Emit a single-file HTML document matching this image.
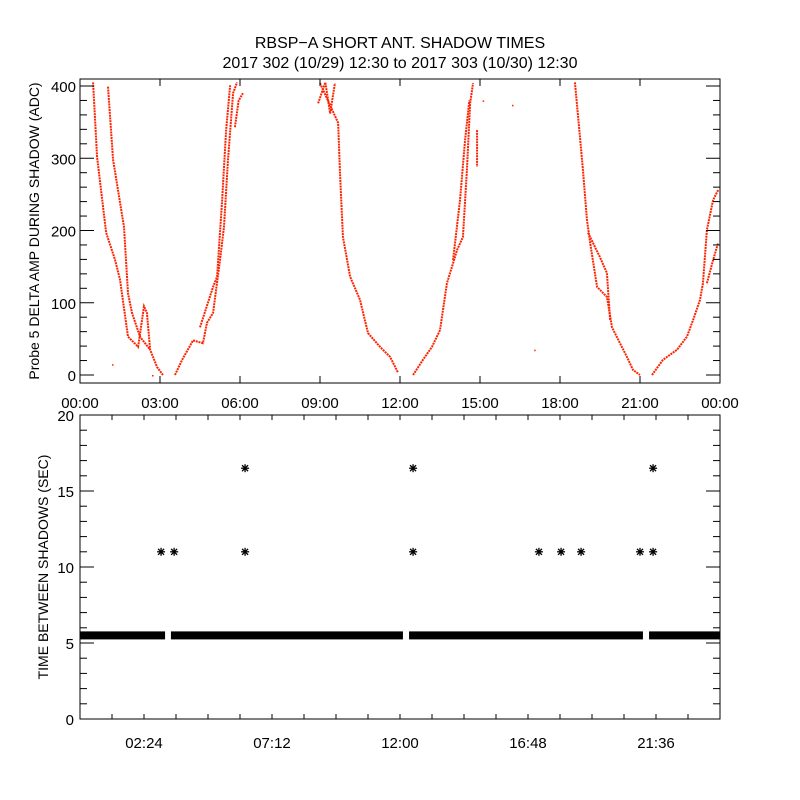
<!DOCTYPE html>
<html><head><meta charset="utf-8"><style>
html,body{margin:0;padding:0;background:#fff}
svg{display:block;font-family:"Liberation Sans",sans-serif}
</style></head><body>
<svg id="chart" width="800" height="800" viewBox="0 0 800 800" xmlns="http://www.w3.org/2000/svg">
<rect width="800" height="800" fill="#fff"/>
<text x="400" y="48" font-size="16" text-anchor="middle">RBSP−A SHORT ANT. SHADOW TIMES</text>
<text x="400" y="68" font-size="16" text-anchor="middle">2017 302 (10/29) 12:30 to 2017 303 (10/30) 12:30</text>
<g id="topPanel"></g>
<g id="botPanel"></g>
</svg>
<script>
// ---- top panel data (hour, ADC) ----
const topXTickLabels = ["00:00","03:00","06:00","09:00","12:00","15:00","18:00","21:00","00:00"];
const topYTickLabels = ["0","100","200","300","400"];
const trace1a = [[0.49,405],[0.64,302],[0.98,197],[1.31,160],[1.5,132],[1.8,53],[2.18,39],[2.4,95],[2.51,86],[2.63,35],[2.89,11],[3.11,0]];
const trace1b = [[1.05,399],[1.24,298],[1.65,205],[1.8,113],[1.95,86],[2.25,53],[2.63,35]];
const trace1c = [[3.56,0],[3.83,21],[4.24,48],[4.61,44],[4.76,72],[4.99,86],[5.25,159],[5.4,205],[5.55,298],[5.74,390],[5.89,405]];
const trace1d = [[4.5,66],[4.99,122],[5.14,136],[5.33,242],[5.48,339],[5.63,401]];
const trace1e = [[5.81,343],[5.95,380],[6.11,390]];
const trace2a = [[9.0,404],[9.68,349],[9.75,280],[9.86,191],[10.13,136],[10.5,104],[10.8,58],[11.25,39],[11.63,25],[11.93,3]];
const trace2b = [[8.93,376],[9.2,405],[9.38,362],[9.56,404]];
const trace2c = [[12.49,0],[12.86,21],[13.2,39],[13.5,62],[13.76,127],[14.14,173],[14.36,191],[14.51,284],[14.63,376],[14.74,404]];
const trace2d = [[13.99,159],[14.25,242],[14.44,325],[14.6,380]];
const trace2e = [[14.89,339],[14.89,288]];
const trace3a = [[18.56,405],[18.75,329],[18.86,284],[19.01,215],[19.13,183],[19.39,122],[19.76,108],[19.95,66],[20.25,44],[20.51,25],[20.74,7],[21.0,0]];
const trace3b = [[19.05,197],[19.5,163],[19.76,141],[19.88,76]];
const trace3c = [[21.45,0],[21.86,21],[22.39,35],[22.76,53],[22.99,76],[23.25,104],[23.36,127],[23.51,201],[23.74,242],[23.93,256]];
const trace3d = [[23.51,127],[23.74,159],[23.93,183]];
const strayHours = [16.2,17.03,1.2,2.7,15.1];
const strayValues = [374,35,15,0,380];
// ---- bottom panel data (hour, seconds) ----
const botXTickLabels = ["02:24","07:12","12:00","16:48","21:36"];
const botYTickLabels = ["0","5","10","15","20"];
const bandStart = [0,3.41,12.34,21.34];
const bandEnd = [3.19,12.11,21.11,24];
const bandValue = 5.5;
const outlierHours = [3.04,3.53,6.19,6.19,12.49,12.49,17.21,18.04,18.79,21.0,21.49,21.49];
const outlierValues = [11,11,11,16.5,11,16.5,11,11,11,11,11,16.5];

const NS="http://www.w3.org/2000/svg";
function mk(tag,attrs,parent){const e=document.createElementNS(NS,tag);for(const k in attrs)e.setAttribute(k,attrs[k]);parent.appendChild(e);return e;}
const L=80,R=720;
// top axes
const tT=79,tB=383;
const tx=h=>L+h/24*(R-L);
const ty=v=>375-v*0.7225;
const topG=document.getElementById('topPanel');
const clip=mk('clipPath',{id:'tc'},topG);mk('rect',{x:L,y:tT,width:R-L,height:tB-tT},clip);
const dataG=mk('g',{'clip-path':'url(#tc)'},topG);
const traces=[trace1a,trace1b,trace1c,trace1d,trace1e,trace2a,trace2b,trace2c,trace2d,trace2e,trace3a,trace3b,trace3c,trace3d];
traces.forEach((t,i)=>{
  const p=mk('polyline',{points:t.map(d=>tx(d[0])+','+ty(d[1])).join(' '),fill:'none',stroke:'#ff2200','stroke-width':2,'stroke-dasharray':'2 0.8'},dataG);
  
  
});
strayHours.forEach((h,i)=>{
  const r=mk('rect',{x:tx(h),y:ty(strayValues[i]),width:1.5,height:1.5,fill:'#ff2200'},dataG);
  
  
});
const tf=mk('rect',{x:L,y:tT,width:R-L,height:tB-tT,fill:'none',stroke:'#000','stroke-width':1},topG);


for(let v=0;v<=400;v+=20){
  const len=v%100===0?14:7;const y=ty(v);
  mk('line',{x1:L,x2:L+len,y1:y,y2:y,stroke:'#000'},topG);
  mk('line',{x1:R,x2:R-len,y1:y,y2:y,stroke:'#000'},topG);
}
topYTickLabels.forEach((s,i)=>{
  const t=mk('text',{x:L-4,y:ty(i*100)+6,'font-size':15,'text-anchor':'end'},topG);t.textContent=s;
  
  
});
topXTickLabels.forEach((s,i)=>{
  const x=tx(i*3);
  mk('line',{x1:x,x2:x,y1:tT,y2:tT+7,stroke:'#000'},topG);
  mk('line',{x1:x,x2:x,y1:tB,y2:tB-7,stroke:'#000'},topG);
  const t=mk('text',{x:x,y:408,'font-size':15,'text-anchor':'middle'},topG);t.textContent=s;
  
  
});
const ytl=mk('text',{x:0,y:0,'font-size':14,'text-anchor':'middle',transform:'translate(39,231) rotate(-90)'},topG);
ytl.textContent='Probe 5 DELTA AMP DURING SHADOW (ADC)';



// bottom axes
const bT=415,bB=719;
const bx=h=>L+h/24*(R-L);
const by=v=>bB-v*(bB-bT)/20;
const botG=document.getElementById('botPanel');
bandStart.forEach((s,i)=>{
  const r=mk('rect',{x:bx(s),y:by(bandValue)-4,width:bx(bandEnd[i])-bx(s),height:8,fill:'#000'},botG);
  
  
});
outlierHours.forEach((h,i)=>{
  const cx=bx(h),cy=by(outlierValues[i]);
  const g=mk('g',{stroke:'#000','stroke-width':1.3},botG);
  
  
  mk('line',{x1:cx-4,x2:cx+4,y1:cy,y2:cy},g);
  mk('line',{x1:cx,x2:cx,y1:cy-4,y2:cy+4},g);
  mk('line',{x1:cx-3,x2:cx+3,y1:cy-3,y2:cy+3},g);
  mk('line',{x1:cx-3,x2:cx+3,y1:cy+3,y2:cy-3},g);
});
const bf=mk('rect',{x:L,y:bT,width:R-L,height:bB-bT,fill:'none',stroke:'#000','stroke-width':1},botG);


for(let v=0;v<=20;v++){
  const len=v%5===0?14:7;const y=by(v);
  mk('line',{x1:L,x2:L+len,y1:y,y2:y,stroke:'#000'},botG);
  mk('line',{x1:R,x2:R-len,y1:y,y2:y,stroke:'#000'},botG);
}
botYTickLabels.forEach((s,i)=>{
  const t=mk('text',{x:L-6,y:by(i*5)+6,'font-size':15,'text-anchor':'end'},botG);t.textContent=s;
  
  
});
for(let k=0;k<=20;k++){
  const x=bx(k*1.2);
  mk('line',{x1:x,x2:x,y1:bT,y2:bT+5,stroke:'#000'},botG);
  mk('line',{x1:x,x2:x,y1:bB,y2:bB-5,stroke:'#000'},botG);
}
botXTickLabels.forEach((s,i)=>{
  const t=mk('text',{x:bx(2.4+i*4.8),y:748,'font-size':15,'text-anchor':'middle'},botG);t.textContent=s;
  
  
});
const ybl=mk('text',{x:0,y:0,'font-size':14,'text-anchor':'middle',transform:'translate(48,567) rotate(-90)'},botG);
ybl.textContent='TIME BETWEEN SHADOWS (SEC)';


</script>
</body></html>
